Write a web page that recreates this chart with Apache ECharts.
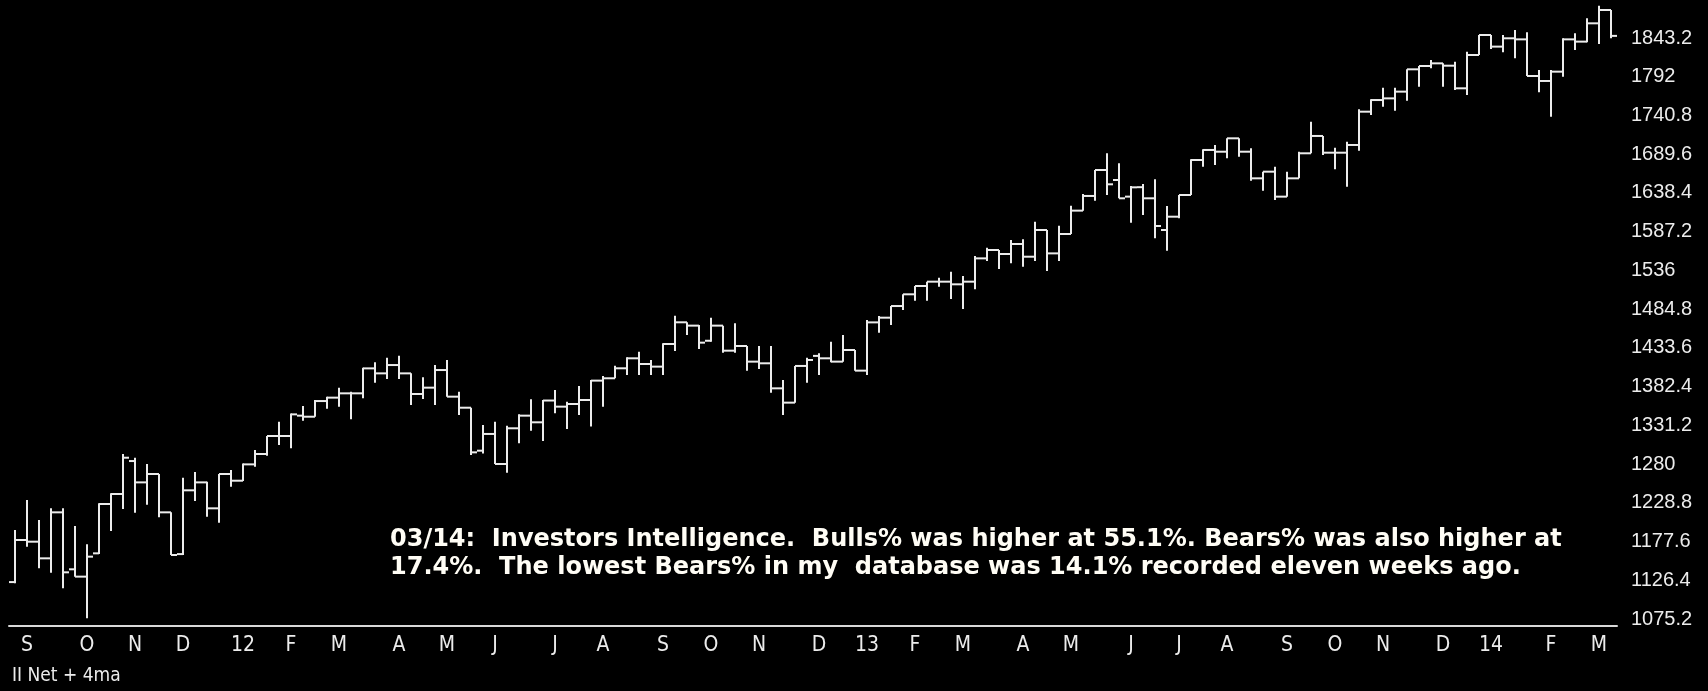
<!DOCTYPE html>
<html>
<head>
<meta charset="utf-8">
<script src="https://cdn.jsdelivr.net/npm/echarts@6/dist/echarts.min.js"></script>
<style>
  html, body { margin: 0; background: #000; }
  #chart { width: 1708px; height: 691px; }
</style>
</head>
<body>
<div id="chart"></div>
<script>
// weekly bars, Aug 26 2011 .. Mar 14 2014; month ticks sit on the week holding the 1st trading day
const monthTicks = [
  [1, "S"], [6, "O"], [10, "N"], [14, "D"], [19, "12"], [23, "F"], [27, "M"], [32, "A"],
  [36, "M"], [40, "J"], [45, "J"], [49, "A"], [54, "S"], [58, "O"], [62, "N"], [67, "D"],
  [71, "13"], [75, "F"], [79, "M"], [84, "A"], [88, "M"], [93, "J"], [97, "J"], [101, "A"],
  [106, "S"], [110, "O"], [114, "N"], [119, "D"], [123, "14"], [128, "F"], [132, "M"],
];

const yTicks = [1075.2, 1126.4, 1177.6, 1228.8, 1280, 1331.2, 1382.4, 1433.6,
  1484.8, 1536, 1587.2, 1638.4, 1689.6, 1740.8, 1792, 1843.2];

const opens = [
  1124.0, 1179.6, 1177.4, 1155.4, 1216.2, 1140.9, 1131.2, 1162.0, 1227.2, 1240.4,
  1284.0, 1255.8, 1266.9, 1216.2, 1161.0, 1245.3, 1255.8, 1221.5, 1266.9, 1258.0,
  1279.6, 1293.3, 1317.1, 1317.1, 1344.0, 1342.6, 1363.3, 1367.8, 1373.5, 1373.5,
  1406.5, 1399.9, 1410.9, 1399.9, 1372.6, 1381.0, 1404.3, 1369.1, 1354.5, 1297.7,
  1319.8, 1280.1, 1327.3, 1344.0, 1335.2, 1364.0, 1355.9, 1359.4, 1364.7, 1390.3,
  1393.4, 1406.6, 1419.8, 1412.3, 1408.8, 1438.7, 1467.4, 1463.0, 1443.0, 1463.0,
  1429.9, 1436.1, 1415.4, 1413.2, 1380.1, 1361.2, 1409.7, 1423.0, 1419.8, 1415.4,
  1430.8, 1403.5, 1467.3, 1473.5, 1488.9, 1504.4, 1515.4, 1521.1, 1521.1, 1517.6,
  1521.1, 1551.9, 1563.0, 1557.7, 1570.9, 1554.1, 1589.4, 1558.5, 1584.1, 1615.0,
  1634.4, 1668.7, 1655.5, 1633.5, 1646.0, 1631.3, 1589.4, 1607.0, 1635.7, 1681.9,
  1695.2, 1692.9, 1710.6, 1692.9, 1657.7, 1666.5, 1633.5, 1657.7, 1690.8, 1713.7,
  1691.6, 1691.6, 1701.8, 1745.8, 1761.2, 1763.4, 1772.3, 1801.8, 1806.2, 1809.7,
  1806.6, 1776.7, 1820.7, 1847.2, 1831.8, 1842.8, 1841.4, 1793.0, 1786.4, 1798.7,
  1841.4, 1838.4, 1862.6, 1880.2,
];
const highs = [
  1192.8, 1232.5, 1206.1, 1221.5, 1221.5, 1198.1, 1173.9, 1228.1, 1241.3, 1293.3,
  1288.4, 1280.1, 1266.9, 1216.2, 1262.0, 1269.5, 1256.7, 1266.9, 1272.1, 1280.9,
  1298.6, 1317.1, 1336.0, 1347.0, 1356.7, 1364.7, 1369.1, 1381.0, 1375.7, 1407.4,
  1414.5, 1420.6, 1423.3, 1399.9, 1394.6, 1410.9, 1417.5, 1375.7, 1354.5, 1331.7,
  1336.1, 1330.8, 1345.8, 1365.6, 1364.7, 1377.9, 1362.5, 1383.2, 1391.2, 1396.4,
  1410.1, 1421.1, 1428.6, 1417.6, 1439.6, 1476.2, 1467.4, 1463.9, 1473.5, 1463.0,
  1466.1, 1436.1, 1436.1, 1436.1, 1391.2, 1409.7, 1420.7, 1426.4, 1441.8, 1450.6,
  1430.8, 1470.5, 1475.7, 1488.9, 1504.4, 1515.4, 1521.1, 1526.4, 1534.3, 1528.6,
  1555.1, 1566.1, 1563.0, 1576.2, 1577.1, 1600.4, 1589.4, 1595.1, 1621.6, 1637.0,
  1668.7, 1690.7, 1677.5, 1647.6, 1650.2, 1656.4, 1621.1, 1635.7, 1682.8, 1696.1,
  1701.7, 1710.6, 1710.6, 1697.4, 1666.5, 1673.1, 1666.5, 1693.0, 1732.6, 1713.7,
  1698.2, 1706.2, 1748.9, 1762.1, 1777.6, 1777.6, 1801.8, 1806.2, 1814.1, 1809.7,
  1811.9, 1825.1, 1847.2, 1847.2, 1847.2, 1853.8, 1850.7, 1800.9, 1800.9, 1842.8,
  1849.4, 1869.2, 1885.9, 1880.2,
];
const lows = [
  1122.3, 1170.8, 1142.2, 1136.4, 1115.7, 1131.2, 1076.1, 1161.1, 1191.5, 1220.6,
  1215.7, 1226.3, 1209.6, 1159.8, 1159.8, 1231.2, 1210.5, 1202.5, 1250.1, 1257.5,
  1276.5, 1291.1, 1305.2, 1300.8, 1337.4, 1342.6, 1353.2, 1355.9, 1339.1, 1366.9,
  1387.6, 1392.4, 1392.4, 1358.1, 1366.0, 1358.1, 1369.1, 1344.9, 1292.0, 1294.0,
  1280.1, 1268.6, 1307.4, 1324.2, 1310.5, 1347.1, 1326.4, 1344.9, 1329.5, 1355.9,
  1393.4, 1397.8, 1397.8, 1397.8, 1397.8, 1429.5, 1450.6, 1432.1, 1441.8, 1427.3,
  1427.3, 1403.5, 1405.7, 1374.4, 1344.9, 1361.2, 1387.6, 1397.8, 1414.5, 1415.4,
  1403.5, 1397.8, 1453.7, 1463.8, 1483.6, 1496.0, 1496.0, 1514.5, 1498.2, 1484.9,
  1511.0, 1548.4, 1537.8, 1545.3, 1540.9, 1548.4, 1535.2, 1548.4, 1584.1, 1615.0,
  1628.2, 1635.7, 1631.3, 1599.1, 1609.2, 1578.4, 1562.1, 1604.8, 1635.7, 1673.1,
  1675.3, 1684.1, 1686.3, 1654.6, 1641.4, 1629.1, 1633.5, 1657.7, 1690.8, 1688.5,
  1669.6, 1646.7, 1694.3, 1741.4, 1752.4, 1747.1, 1760.4, 1778.9, 1803.1, 1778.9,
  1774.5, 1767.9, 1820.7, 1828.6, 1824.3, 1816.3, 1793.0, 1771.4, 1739.2, 1792.1,
  1827.3, 1837.5, 1835.3, 1842.8,
];
const closes = [
  1179.6, 1177.4, 1155.4, 1216.2, 1136.9, 1131.2, 1157.6, 1227.2, 1240.4, 1288.4,
  1255.8, 1266.9, 1216.2, 1159.8, 1245.3, 1255.8, 1221.5, 1266.9, 1258.0, 1279.6,
  1293.3, 1317.1, 1317.1, 1345.7, 1342.6, 1363.3, 1367.8, 1373.5, 1373.5, 1406.5,
  1399.9, 1410.9, 1399.9, 1372.6, 1381.0, 1404.3, 1369.1, 1354.5, 1295.5, 1319.8,
  1280.1, 1327.3, 1344.0, 1335.2, 1364.0, 1355.9, 1359.4, 1364.7, 1390.3, 1393.4,
  1406.6, 1419.8, 1412.3, 1408.8, 1438.7, 1467.4, 1463.0, 1440.5, 1463.0, 1429.9,
  1436.1, 1415.4, 1413.2, 1380.1, 1361.2, 1409.7, 1417.6, 1419.8, 1415.4, 1430.8,
  1403.5, 1467.3, 1473.5, 1488.9, 1504.4, 1515.4, 1521.1, 1521.1, 1517.6, 1521.1,
  1551.9, 1563.0, 1557.7, 1570.9, 1554.1, 1589.4, 1558.5, 1584.1, 1615.0, 1634.4,
  1668.7, 1649.8, 1631.3, 1645.8, 1631.3, 1594.7, 1607.0, 1635.7, 1681.9, 1695.2,
  1692.9, 1710.6, 1692.9, 1657.7, 1666.5, 1633.5, 1657.7, 1690.8, 1713.7, 1691.6,
  1691.6, 1701.8, 1745.8, 1761.2, 1763.4, 1772.3, 1801.8, 1806.2, 1809.7, 1806.6,
  1776.7, 1820.7, 1847.2, 1831.8, 1842.8, 1841.4, 1793.0, 1786.4, 1798.7, 1841.4,
  1838.4, 1862.6, 1880.2, 1846.0,
];

const noteLines = [
  "03/14:  Investors Intelligence.  Bulls% was higher at 55.1%. Bears% was also higher at",
  "17.4%.  The lowest Bears% in my  database was 14.1% recorded eleven weeks ago.",
];
const footLabel = "II Net + 4ma";

const categories = opens.map(() => "");
monthTicks.forEach(([i, m]) => { categories[i] = m; });
const bars = opens.map((o, i) => [i, o, highs[i], lows[i], closes[i]]);

const ink = "#ececec";
const narrow = '"Liberation Sans Narrow", "DejaVu Sans Condensed", Arial, sans-serif';
const noteFont = 'bold 24px "DejaVu Sans", Verdana, sans-serif';
const isMonth = (i, v) => v !== "";

function renderBar(params, api) {
  const i = api.value(0);
  const x = Math.round(api.coord([i, api.value(1)])[0]);
  const half = api.size([1, 0])[0] / 2;
  const yo = api.coord([i, api.value(1)])[1];
  const yh = api.coord([i, api.value(2)])[1];
  const yl = api.coord([i, api.value(3)])[1];
  const yc = api.coord([i, api.value(4)])[1];
  const style = { stroke: ink, lineWidth: 2 };
  return {
    type: "group",
    children: [
      { type: "line", shape: { x1: x, y1: yh, x2: x, y2: yl }, style },
      { type: "line", shape: { x1: x - half, y1: yo, x2: x, y2: yo }, style },
      { type: "line", shape: { x1: x, y1: yc, x2: x + half, y2: yc }, style },
    ],
  };
}

const chart = echarts.init(document.getElementById("chart"));
chart.setOption({
  backgroundColor: "#000",
  animation: false,
  grid: { left: 9, right: 91, top: 0, bottom: 65 },
  xAxis: {
    type: "category",
    data: categories,
    boundaryGap: true,
    axisLine: { lineStyle: { color: "#d9d9d9", width: 2 } },
    axisTick: { alignWithLabel: true, interval: isMonth, length: 6, lineStyle: { color: "#d9d9d9" } },
    axisLabel: { interval: isMonth, color: ink, fontFamily: narrow, fontSize: 21, margin: 9 },
  },
  yAxis: {
    type: "value",
    position: "right",
    min: 1065.95,
    max: 1893.43,
    splitLine: { show: false },
    axisLine: { show: false },
    axisTick: { show: false },
    axisLabel: {
      customValues: yTicks,
      formatter: (v) => String(v),
      color: ink,
      fontFamily: "Arial, Liberation Sans, sans-serif",
      fontSize: 20,
      margin: 14,
    },
  },
  series: [{
    type: "custom",
    data: bars,
    encode: { x: 0, y: [1, 2, 3, 4] },
    renderItem: renderBar,
  }],
  graphic: [
    { type: "text", left: 390, top: 528, style: { text: noteLines[0], fill: "#fffdf5", font: noteFont } },
    { type: "text", left: 390, top: 556, style: { text: noteLines[1], fill: "#fffdf5", font: noteFont } },
    { type: "text", left: 12, top: 667, style: { text: footLabel, fill: ink, font: "19px " + narrow } },
  ],
});
</script>
</body>
</html>
